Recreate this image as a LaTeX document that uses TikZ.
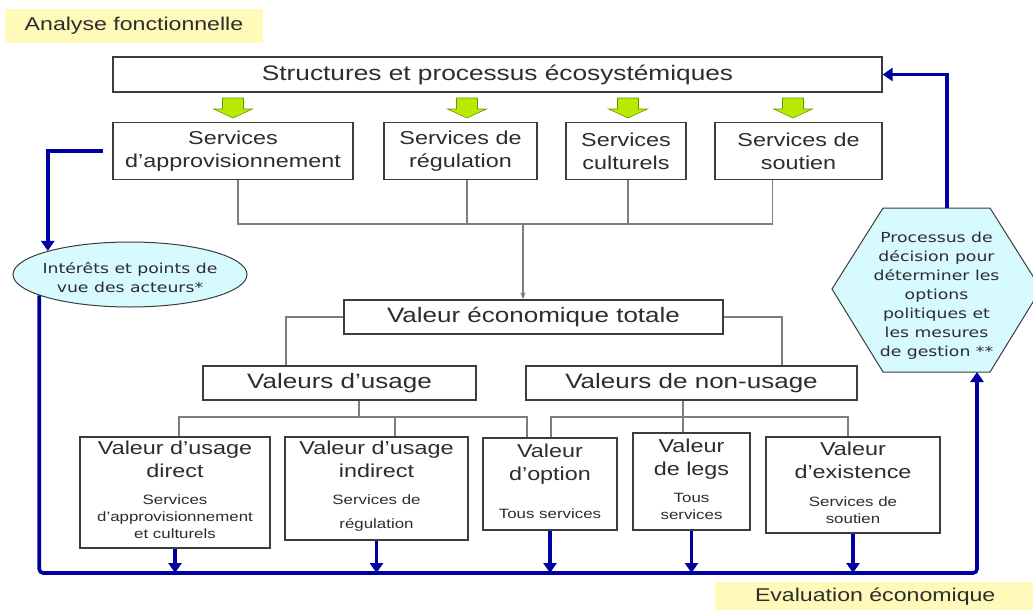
\documentclass[tikz,border=0pt]{standalone}
\usepackage{fontspec}
\setmainfont[FakeStretch=1.25]{Liberation Sans}
\newfontfamily\rfont[FakeStretch=1.25]{DejaVu Sans}
\usetikzlibrary{arrows.meta,shapes.geometric,calc}
\definecolor{navy}{RGB}{0,0,160}
\definecolor{txt}{RGB}{45,45,45}
\definecolor{edge}{RGB}{60,60,60}
\definecolor{conn}{RGB}{125,125,125}
\definecolor{lbl}{RGB}{255,250,185}
\definecolor{cyanf}{RGB}{215,250,255}
\definecolor{lime}{RGB}{185,235,0}
\definecolor{limed}{RGB}{110,150,0}
\newcommand{\subt}[2][17]{{\fontsize{13.5}{#1}\selectfont\begin{tabular}[t]{@{}c@{}}#2\end{tabular}}}
\begin{document}
\begin{tikzpicture}[x=1pt,y=-1pt,
  box/.style={draw=edge,line width=1.3pt,fill=white,text=txt,align=center,inner sep=0pt},
  big/.style={font=\fontsize{20.8}{25}\selectfont},
  mid/.style={font=\fontsize{18.7}{23}\selectfont},
  gline/.style={draw=conn,line width=1.2pt},
  bline/.style={draw=navy,line width=3.6pt},
  barrow/.style={bline,-{Triangle[width=13pt,length=10pt]}},
  lab/.style={fill=lbl,text=txt,font=\fontsize{18.5}{22}\selectfont,inner sep=0pt},
  garrow/.style={fill=lime,draw=limed,line width=0.6pt},
  roundtxt/.style={text=txt,align=center,font=\rfont\fontsize{13.8}{19}\selectfont}
]
\useasboundingbox (0,0) rectangle (1033,610);

% labels
\node[lab,minimum width=258pt,minimum height=34pt] (afl) at (134,26) {Analyse fonctionnelle};
\node[lab,minimum width=320pt,minimum height=30pt,anchor=west] (ev) at (715,597) {Evaluation économique};

% top structure
\node[box,font=\fontsize{21}{25}\selectfont,minimum width=769pt,minimum height=35pt] (top) at (497.5,74.5) {Structures et processus écosystémiques};

% green arrows
\foreach \x in {233,467,628,793}{
  \draw[garrow] (\x-10.5,98) -- (\x+10.5,98) -- (\x+10.5,109) -- (\x+19.5,109) -- (\x,118) -- (\x-19.5,109) -- (\x-10.5,109) -- cycle;
}

% services
\node[box,mid,minimum width=240pt,minimum height=57pt] (s1) at (233,151) {Services\\d’approvisionnement};
\node[box,mid,minimum width=153pt,minimum height=57pt] (s2) at (460.5,151) {Services de\\régulation};
\node[box,mid,minimum width=120pt,minimum height=57pt] (s3) at (626,151) {Services\\culturels};
\node[box,mid,minimum width=167pt,minimum height=57pt] (s4) at (798.5,151) {Services de\\soutien};

% total economic value
\node[box,big,minimum width=379pt,minimum height=34pt] (vet) at (533.5,317) {Valeur économique totale};
\node[box,big,minimum width=273pt,minimum height=34pt] (vu) at (339.5,383) {Valeurs d’usage};
\node[box,big,minimum width=331pt,minimum height=34pt] (vnu) at (691.5,383) {Valeurs de non-usage};

% value boxes
\node[box,mid,minimum width=190pt,minimum height=111pt] (d1) at (175,492.5) {Valeur d’usage\\direct\\[4pt]\subt{Services\\d’approvisionnement\\et culturels}};
\node[box,mid,minimum width=183pt,minimum height=103pt] (d2) at (376.5,488.5) {Valeur d’usage\\indirect\\[4pt]\subt[24]{Services de\\régulation}};
\node[box,mid,minimum width=134pt,minimum height=92pt] (d3) at (550,484) {Valeur\\d’option\\[15pt]\subt{Tous services}};
\node[box,mid,minimum width=117pt,minimum height=97pt] (d4) at (691.5,481.5) {Valeur\\de legs\\[4pt]\subt{Tous\\services}};
\node[box,mid,minimum width=174pt,minimum height=96pt] (d5) at (853,485) {Valeur\\d’existence\\[5pt]\subt{Services de\\soutien}};

% ellipse
\node[ellipse,draw=edge,fill=cyanf,line width=1pt,minimum width=234pt,minimum height=65pt,inner sep=0pt] (ell) at (130,274.5) {};
\node[roundtxt] (ellt) at (130,278) {Intérêts et points de\\vue des acteurs*};

% hexagon
\draw[fill=cyanf,draw=edge,line width=1pt] (832,289) -- (883,208) -- (990,208) -- (1041,289) -- (990,372) -- (883,372) -- cycle;
\node[roundtxt] (hext) at (936.5,296) {Processus de\\décision pour\\déterminer les\\options\\politiques et\\les mesures\\de gestion **};
\coordinate (hexT) at (947,208);
\coordinate (hexB) at (977,372);

% grey connectors
\coordinate (hub) at (523,224);
\draw[gline] ([xshift=5pt]s1.south) |- ([xshift=-26pt]s4.south |- hub) -- ([xshift=-26pt]s4.south);
\draw[gline] ([xshift=6.5pt]s2.south) -- ([xshift=6.5pt]s2.south |- hub);
\draw[gline] ([xshift=2pt]s3.south) -- ([xshift=2pt]s3.south |- hub);
\draw[gline,-{Stealth[length=7pt,width=5pt]}] (hub) -- (hub |- vet.north);
\draw[gline] (vet.west) -| ([xshift=-53.5pt]vu.north);
\draw[gline] (vet.east) -| ([xshift=90.5pt]vnu.north);
\coordinate (ju) at (359,417);
\coordinate (jn) at (683,417);
\draw[gline] (vu.south -| ju) -- (ju);
\draw[gline] ([xshift=4pt]d1.north) |- ([xshift=-23pt]d3.north |- ju) -- ([xshift=-23pt]d3.north);
\draw[gline] ([xshift=18.5pt]d2.north) -- ([xshift=18.5pt]d2.north |- ju);
\draw[gline] (vnu.south -| jn) -- (d4.north -| jn);
\draw[gline] ([xshift=1pt]d3.north) |- ([xshift=-5pt]d5.north |- jn) -- ([xshift=-5pt]d5.north);

% blue loop
\coordinate (br) at (977,573);
\draw[barrow] ([xshift=-9pt]s1.west) -| (ell.164);
\draw[barrow,rounded corners=4pt] (ell.193) |- (br) -- (hexB);
\draw[barrow] (hexT) |- (top.east);
\foreach \n in {d1,d2,d3,d4,d5}{
  \draw[barrow] (\n.south) -- (\n.south |- br);
}
\end{tikzpicture}
\end{document}
